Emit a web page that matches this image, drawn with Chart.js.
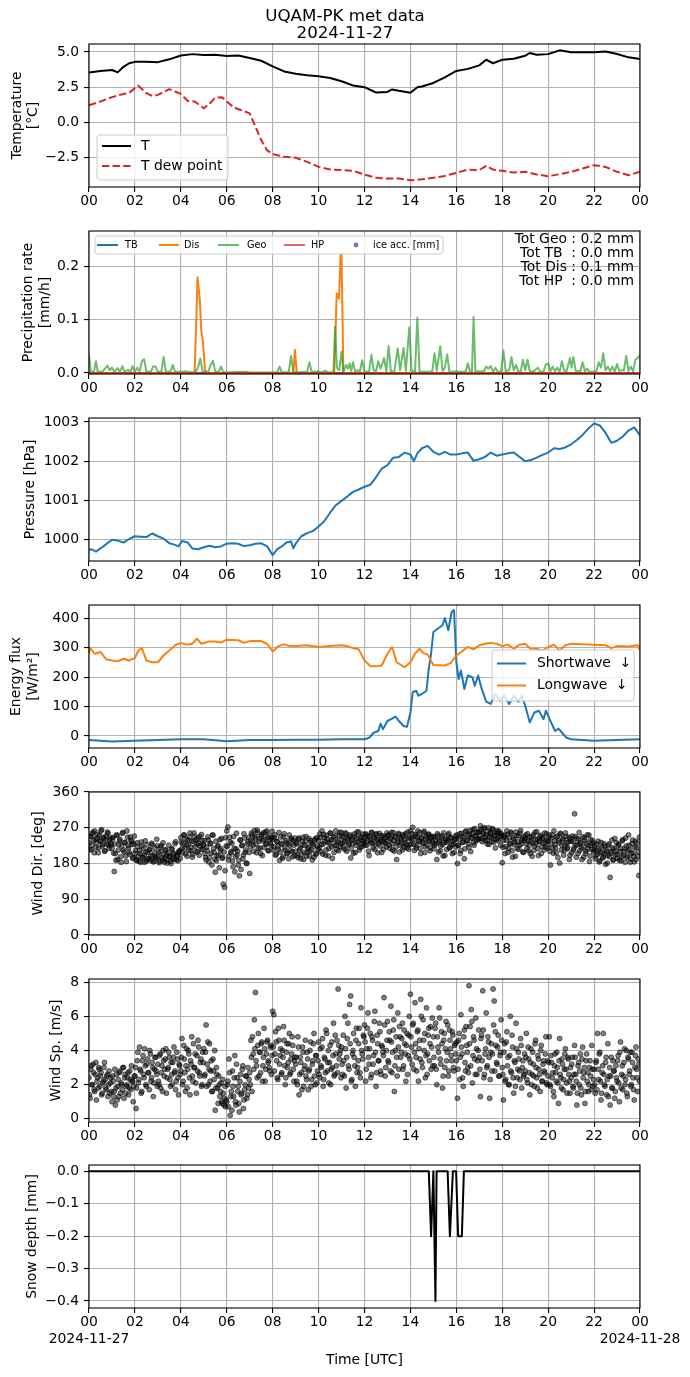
<!DOCTYPE html>
<html><head><meta charset="utf-8">
<script src="https://cdn.jsdelivr.net/npm/chart.js@4/dist/chart.umd.min.js"></script>
<style>
html,body{margin:0;padding:0;background:#fff;}
#wrap{position:relative;width:690px;height:1377px;overflow:hidden;background:#fff;}
canvas{position:absolute;left:0;}
</style></head><body><div id="wrap"></div>
<script>
// ---------------- DATA ----------------
const titleLines = ['UQAM-PK met data', '2024-11-27'];
const dateLabels = ['2024-11-27', '2024-11-28'];

// Temperature (hours UTC, °C)
const tTime = [0,0.5,1,1.25,1.5,1.75,2,2.5,3,3.5,4,4.5,5,5.5,6,6.5,7,7.5,8,8.5,9,9.5,10,10.5,11,11.5,12,12.5,13,13.2,13.5,14,14.3,14.5,15,15.5,16,16.5,17,17.3,17.6,18,18.5,19,19.2,19.5,20,20.5,21,21.5,22,22.5,23,23.5,24];
const tVals = [3.55,3.65,3.72,3.55,3.95,4.2,4.3,4.3,4.28,4.48,4.75,4.85,4.78,4.8,4.72,4.75,4.57,4.38,3.98,3.62,3.45,3.35,3.28,3.15,2.92,2.62,2.5,2.12,2.16,2.34,2.24,2.1,2.5,2.55,2.8,3.2,3.65,3.8,4.05,4.45,4.2,4.45,4.52,4.74,4.93,4.81,4.85,5.12,4.98,4.98,4.98,5.03,4.86,4.62,4.5];
const tdTime = [0,0.5,1,1.5,1.75,2,2.15,2.5,2.75,3,3.5,3.75,4,4.3,4.6,5,5.3,5.5,5.8,6,6.3,6.6,7,7.25,7.5,7.75,8,8.5,9,9.5,10,10.5,11,11.5,12,12.5,13,13.5,14,14.5,15,15.5,16,16.5,17,17.3,17.6,18,18.5,19,19.5,20,20.5,21,21.5,22,22.5,23,23.5,24];
const tdVals = [1.21,1.48,1.79,2.02,2.1,2.43,2.6,2.07,1.88,1.95,2.36,2.19,2.02,1.52,1.48,1.0,1.4,1.76,1.79,1.48,1.07,0.88,0.64,-0.31,-1.26,-1.98,-2.26,-2.45,-2.52,-2.81,-3.17,-3.36,-3.4,-3.45,-3.71,-3.95,-4.0,-4.0,-4.12,-4.05,-3.95,-3.81,-3.6,-3.36,-3.4,-3.1,-3.36,-3.45,-3.57,-3.52,-3.71,-3.83,-3.69,-3.52,-3.29,-3.05,-3.17,-3.52,-3.76,-3.52];

// Precipitation rate [mm/h] as [hour, value]
const tbRate = [[0,0],[24,0]];
const hpRate = [[0,0],[24,0]];
const iceAcc = [];
const disRate = [[0,0],[4.6,0],[4.73,0.18],[4.83,0.135],[4.89,0.08],[4.96,0.06],[5.06,0],[8.9,0],[8.97,0.043],[9.05,0],[10.68,0],[10.79,0.15],[10.84,0.145],[10.89,0.14],[10.96,0.22],[11.0,0.225],[11.08,0],[24,0]];
const geoRate = [[0,0.035],[0.08,0.002],[0.22,0.003],[0.3,0.022],[0.38,0.002],[0.6,0.003],[0.8,0.014],[0.9,0.005],[1.0,0.01],[1.1,0.002],[1.25,0.009],[1.35,0.002],[1.45,0.013],[1.55,0.002],[1.7,0.006],[1.8,0.002],[1.9,0.013],[2.0,0.002],[2.1,0.01],[2.2,0.002],[2.3,0.022],[2.4,0.026],[2.5,0.002],[2.7,0.003],[2.8,0.012],[2.9,0.012],[3.0,0.002],[3.15,0.002],[3.25,0.03],[3.35,0.002],[3.55,0.003],[3.65,0.015],[3.75,0.002],[4.1,0.002],[4.2,0.003],[4.5,0.001],[4.65,0.002],[4.75,0.01],[4.85,0.027],[4.95,0.002],[5.2,0.003],[5.3,0.015],[5.4,0.023],[5.5,0.002],[5.65,0.002],[5.75,0.012],[5.85,0.001],[6.9,0.002],[7.0,0.001],[8.2,0.001],[8.3,0.012],[8.4,0.001],[8.7,0.002],[8.8,0.032],[8.9,0.001],[9.5,0.002],[9.6,0.02],[9.7,0.002],[10.0,0.003],[10.1,0.001],[10.3,0.004],[10.4,0.001],[10.65,0.002],[10.72,0.087],[10.8,0.01],[10.9,0.005],[11.0,0.04],[11.08,0.002],[11.2,0.015],[11.28,0.008],[11.35,0.018],[11.42,0.003],[11.5,0.02],[11.6,0.002],[11.7,0.005],[11.8,0.003],[11.9,0.024],[12.0,0.002],[12.2,0.003],[12.3,0.034],[12.4,0.005],[12.5,0.003],[12.6,0.022],[12.7,0.008],[12.85,0.028],[12.95,0.003],[13.05,0.051],[13.15,0.002],[13.3,0.003],[13.45,0.046],[13.55,0.005],[13.7,0.047],[13.8,0.004],[13.95,0.086],[14.05,0.004],[14.2,0.003],[14.3,0.104],[14.4,0.002],[14.8,0.002],[14.95,0.003],[15.05,0.037],[15.15,0.004],[15.3,0.05],[15.4,0.004],[15.5,0.01],[15.6,0.035],[15.7,0.002],[16.0,0.003],[16.1,0.002],[16.4,0.002],[16.5,0.018],[16.6,0.002],[16.68,0.002],[16.75,0.105],[16.83,0.003],[17.2,0.003],[17.3,0.012],[17.4,0.008],[17.5,0.013],[17.6,0.002],[17.7,0.01],[17.8,0.002],[17.95,0.003],[18.05,0.042],[18.15,0.003],[18.3,0.005],[18.4,0.03],[18.5,0.005],[18.6,0.015],[18.7,0.002],[18.8,0.002],[18.9,0.025],[19.0,0.005],[19.1,0.025],[19.2,0.002],[19.4,0.004],[19.55,0.01],[19.65,0.002],[19.8,0.003],[19.9,0.016],[20.0,0.018],[20.1,0.003],[20.2,0.012],[20.3,0.003],[20.4,0.01],[20.5,0.002],[20.6,0.022],[20.7,0.004],[20.8,0.003],[20.95,0.028],[21.02,0.01],[21.1,0.03],[21.2,0.004],[21.4,0.003],[21.5,0.02],[21.6,0.003],[21.7,0.008],[21.8,0.002],[22.1,0.003],[22.2,0.02],[22.3,0.01],[22.4,0.037],[22.5,0.005],[22.6,0.012],[22.7,0.003],[22.8,0.012],[22.9,0.002],[23.0,0.017],[23.1,0.004],[23.3,0.005],[23.4,0.032],[23.5,0.004],[23.6,0.012],[23.7,0.003],[23.8,0.025],[23.9,0.028],[24.0,0.034]];
const precipTotals = ['Tot Geo : 0.2 mm', 'Tot TB  : 0.0 mm', 'Tot Dis : 0.1 mm', 'Tot HP  : 0.0 mm'];

// Pressure [hPa]
const pTime = [0,0.1,0.3,0.5,0.75,1,1.25,1.5,1.75,2,2.25,2.5,2.75,3,3.25,3.5,3.75,3.9,4.05,4.3,4.5,4.75,5,5.25,5.5,5.75,6,6.25,6.5,6.75,7,7.25,7.5,7.75,8,8.2,8.4,8.6,8.8,8.9,9,9.25,9.5,9.75,10,10.25,10.5,10.75,11,11.25,11.5,11.75,12,12.25,12.5,12.75,13,13.25,13.5,13.75,14,14.15,14.3,14.5,14.75,15,15.25,15.5,15.75,16,16.25,16.5,16.75,17,17.25,17.5,17.75,18,18.25,18.5,18.75,19,19.25,19.5,19.75,20,20.25,20.5,20.75,21,21.25,21.5,21.75,22,22.25,22.5,22.75,23,23.25,23.5,23.75,24];
const pVals = [999.74,999.76,999.70,999.78,999.89,1000.0,999.98,999.93,1000.02,1000.09,1000.08,1000.07,1000.16,1000.09,1000.03,999.91,999.87,999.83,999.97,999.93,999.78,999.76,999.81,999.85,999.81,999.83,999.90,999.91,999.90,999.84,999.86,999.90,999.91,999.84,999.61,999.76,999.83,999.93,999.96,999.78,999.90,1000.09,1000.17,1000.22,1000.34,1000.47,1000.69,1000.88,1000.99,1001.10,1001.22,1001.28,1001.35,1001.40,1001.59,1001.81,1001.90,1002.09,1002.11,1002.22,1002.17,1002.0,1002.20,1002.33,1002.39,1002.24,1002.17,1002.24,1002.17,1002.17,1002.2,1002.22,1002.01,1002.05,1002.11,1002.22,1002.14,1002.17,1002.2,1002.22,1002.11,1002.0,1002.03,1002.09,1002.16,1002.22,1002.33,1002.31,1002.35,1002.43,1002.54,1002.67,1002.83,1002.96,1002.91,1002.72,1002.47,1002.52,1002.63,1002.78,1002.86,1002.66];

// Energy flux [W/m2]
const swTime = [0,1,2,3,4,5,6,7,8,9,10,11,12,12.2,12.4,12.6,12.7,12.8,13,13.2,13.35,13.5,13.7,13.85,14,14.1,14.25,14.35,14.5,14.7,14.8,14.9,15,15.2,15.4,15.5,15.65,15.8,15.9,16,16.1,16.2,16.35,16.5,16.7,16.8,16.95,17.1,17.3,17.5,17.7,17.9,18.1,18.3,18.5,18.7,18.85,19,19.2,19.4,19.6,19.8,19.9,20.1,20.3,20.45,20.6,20.8,21,22,23,24];
const swVals = [-14,-19,-16,-14,-11,-11,-18,-14,-14,-13,-13,-11,-11,-6,11,17,42,23,51,59,66,51,34,31,80,149,154,137,143,154,229,280,354,366,377,402,360,423,429,251,194,223,160,206,200,171,206,162,117,109,143,120,137,109,137,117,137,103,46,80,86,57,86,51,17,25,11,-6,-11,-16,-14,-11];
const lwTime = [0,0.05,0.25,0.5,0.75,1,1.25,1.5,1.75,2,2.15,2.3,2.5,2.75,3,3.25,3.5,3.75,4,4.25,4.5,4.7,4.9,5.25,5.5,5.75,6,6.5,6.75,7,7.5,7.75,8,8.25,8.5,8.75,9,9.5,10,10.5,11,11.25,11.5,11.75,12,12.25,12.5,12.75,13,13.2,13.4,13.75,14,14.2,14.4,14.55,14.75,15,15.5,15.75,16,16.25,16.5,16.75,17,17.25,17.5,17.75,18,18.25,18.5,18.75,19,19.25,19.5,19.75,20,20.25,20.5,20.75,21,21.5,22,22.5,22.75,23,23.5,23.9,24];
const lwVals = [280,300,280,286,261,257,254,263,257,265,291,299,257,251,251,274,291,309,317,311,314,331,314,322,322,318,328,326,317,323,323,314,288,306,312,306,306,309,303,306,309,306,299,295,257,238,237,240,280,303,251,234,251,280,297,283,277,242,240,248,274,288,303,295,309,314,317,314,306,311,297,311,314,295,297,291,303,311,291,309,314,312,311,309,299,306,305,309,291];

// Wind direction [deg]: 20 samples per hour at :00,:03,... (A) and at :01.5,:04.5,... (B)
const windDir = [
232,248,215,255,238,262,221,244,207,251,236,265,228,243,212,249,259,226,240,231,
218,246,160,205,252,190,228,241,183,256,214,233,199,262,225,208,247,236,193,229,
205,188,232,198,212,183,224,195,201,237,186,208,192,215,199,228,184,206,196,241,
197,182,210,225,188,203,193,214,181,206,199,186,217,192,205,230,189,201,208,212,
245,218,231,252,204,226,239,213,257,221,196,236,248,210,229,244,201,224,253,216,
227,205,189,212,239,196,231,176,251,208,158,187,222,200,240,217,193,128,120,245,
262,272,198,234,210,186,248,159,217,202,176,149,239,225,192,255,208,181,229,246,
155,238,252,226,263,244,207,258,236,219,249,200,257,241,228,262,213,250,231,245,
241,222,252,203,235,216,188,247,228,197,255,213,233,206,192,226,244,210,238,200,
211,232,195,244,219,203,236,190,226,248,208,221,199,238,214,229,196,242,205,224,
237,254,210,262,229,245,201,251,233,218,256,240,193,247,226,262,215,238,250,222,
258,232,246,215,255,239,226,248,194,241,230,254,208,244,235,259,220,247,238,229,
243,255,226,249,200,238,258,231,246,215,253,241,229,256,237,208,250,233,245,222,
237,252,218,244,230,258,211,247,190,236,253,226,241,214,249,232,255,219,243,228,
262,242,271,228,253,219,247,236,258,205,244,231,261,222,249,238,254,212,245,235,
248,226,239,190,251,234,212,245,228,257,200,240,233,252,219,244,227,236,208,249,
242,180,226,255,213,247,234,192,260,238,251,221,263,244,256,232,268,249,240,258,
261,275,243,256,268,238,252,229,270,247,259,236,265,250,219,257,242,262,248,255,
182,238,251,222,262,208,245,229,256,196,241,233,259,217,250,226,263,238,209,247,
243,229,255,212,247,236,198,252,224,241,260,217,235,248,205,244,230,257,221,238,
235,252,176,244,219,262,228,207,249,237,181,254,226,242,213,257,232,220,246,201,
236,249,214,305,226,243,205,258,230,218,247,196,238,211,252,226,185,240,215,231,
214,192,229,203,218,187,233,208,196,224,178,211,200,229,145,206,219,190,243,212,
203,226,188,218,197,240,210,183,224,199,252,215,191,230,207,184,236,220,198,150];
const windDirB = [
215,248,226,259,207,241,232,253,219,237,262,224,246,211,239,229,256,218,244,227,
242,206,229,188,251,214,237,197,224,258,209,233,185,246,219,203,238,228,195,249,
213,190,222,185,205,234,196,218,183,209,227,192,214,188,231,200,186,219,194,225,
208,186,221,195,232,183,214,201,189,226,197,180,216,204,191,235,199,187,211,193,
233,207,252,219,241,198,228,247,212,236,203,257,222,240,209,231,248,215,238,226,
238,195,221,247,184,230,206,252,218,191,236,200,225,169,212,243,196,209,162,224,
223,189,246,207,231,172,218,198,256,211,188,239,165,226,201,244,214,180,235,208,
222,257,235,211,248,229,264,218,242,205,253,237,220,259,231,246,212,240,226,261,
214,245,201,236,223,258,209,231,193,247,219,238,205,229,252,213,240,197,226,244,
230,201,241,214,192,226,246,208,235,198,219,243,211,233,189,224,238,203,245,216,
219,246,228,204,253,236,214,242,199,231,257,222,240,208,249,226,234,212,258,230,
247,220,235,257,211,243,229,252,217,238,206,248,226,259,233,214,245,222,254,236,
226,252,238,211,247,232,258,219,243,229,255,207,240,224,250,236,216,245,231,257,
251,226,242,258,214,237,248,222,233,256,209,244,230,253,220,240,227,259,216,246,
229,255,240,213,249,226,262,237,218,245,232,258,208,242,226,253,236,219,248,231,
217,246,230,255,209,238,224,250,199,233,243,215,237,256,221,245,205,229,240,222,
252,226,241,205,256,233,247,217,262,238,229,253,210,244,265,226,250,237,258,242,
243,266,235,254,270,247,238,261,228,255,244,268,233,251,240,262,237,257,226,250,
221,247,205,239,253,218,231,259,212,244,227,198,250,235,216,256,229,242,208,238,
252,217,238,226,205,247,232,213,258,229,241,200,236,251,222,244,214,233,255,219,
244,211,229,252,206,237,219,247,195,232,256,214,239,201,225,248,217,234,190,242,
207,235,219,248,196,227,241,212,233,190,222,245,205,231,217,252,199,226,238,210,
225,199,213,236,184,207,221,194,230,203,215,181,226,197,210,239,188,218,202,232,
193,229,210,187,237,201,218,244,195,212,226,183,205,239,198,221,190,232,209,246];

// Wind speed [m/s], same sampling
const windSpd = [
2.4,1.2,3.1,2.0,2.7,1.6,3.3,2.2,1.8,2.9,2.5,1.4,2.1,3.0,2.3,1.7,2.6,2.0,1.5,2.4,
1.0,2.2,1.6,0.8,2.6,1.9,1.3,2.8,2.1,1.7,3.0,2.4,1.5,2.0,2.7,1.8,2.3,3.1,2.2,1.9,
2.5,0.6,3.4,2.1,4.2,2.8,1.6,3.7,2.4,3.1,1.9,3.5,2.7,4.0,2.2,3.3,1.3,2.9,3.6,2.6,
3.2,2.0,3.8,2.7,1.6,3.4,2.9,4.1,2.4,3.0,3.6,1.9,2.6,3.3,4.2,2.8,2.2,3.5,1.4,3.1,
2.8,4.7,2.2,3.5,1.6,4.1,2.9,3.8,1.4,3.2,2.5,4.4,3.0,2.1,3.7,4.6,2.7,3.3,1.9,3.9,
4.1,2.6,5.5,3.2,2.0,4.4,2.8,1.6,3.5,2.3,0.5,3.0,1.8,2.5,1.3,2.1,0.9,1.5,1.2,0.7,
1.0,2.2,3.5,0.2,1.6,2.8,1.3,3.7,0.8,2.4,1.9,0.4,2.6,1.5,3.1,1.1,2.0,2.5,1.4,1.8,
2.7,4.6,1.6,3.8,5.8,7.4,3.1,4.3,2.5,3.9,4.4,2.2,3.6,4.1,2.9,4.5,3.3,3.0,4.2,2.6,
6.3,6.1,3.8,4.5,2.4,5.3,3.2,4.1,2.7,3.6,4.6,2.0,3.9,3.0,4.4,2.6,3.5,4.8,2.9,3.4,
3.2,2.2,4.8,1.4,3.6,2.7,4.2,1.9,3.1,2.5,3.9,1.7,2.9,4.5,2.3,3.4,5.0,2.0,3.7,2.8,
4.5,2.4,3.1,4.2,1.9,3.6,2.7,5.0,3.3,2.1,4.3,2.9,3.0,5.6,2.6,3.8,4.6,7.6,3.5,4.0,
4.2,2.6,3.4,6.0,1.8,4.7,3.1,6.7,7.2,2.3,4.0,3.6,1.9,5.3,3.0,4.4,2.7,6.5,3.8,4.9,
5.5,2.2,4.1,6.2,3.2,5.0,2.6,4.6,3.7,6.3,1.9,4.9,3.4,5.6,2.8,4.3,3.9,7.1,2.5,4.0,
5.7,3.3,4.6,6.6,2.7,5.2,1.6,4.0,3.6,6.2,2.9,4.8,3.9,5.6,3.1,4.4,2.2,5.0,3.7,6.0,
7.3,4.2,5.5,2.9,6.8,3.6,5.1,2.2,4.6,7.0,3.3,5.8,4.0,2.4,6.5,3.8,5.3,4.4,2.9,5.9,
4.8,3.1,5.6,2.0,4.2,6.5,3.5,5.1,1.8,4.6,3.0,5.7,3.9,2.5,5.2,4.1,3.4,4.9,2.8,4.4,
3.4,1.2,4.6,2.3,6.1,3.8,1.9,5.2,2.8,4.3,3.0,7.8,5.4,6.4,2.1,4.8,3.5,5.9,2.6,4.0,
3.6,1.3,4.9,7.5,2.4,3.8,6.2,3.1,4.5,1.2,3.9,2.8,7.6,6.9,5.1,3.3,4.2,2.5,3.7,5.8,
3.0,1.1,4.4,2.3,5.1,3.6,2.0,6.0,2.7,4.2,1.5,3.3,5.6,2.4,3.9,2.8,4.7,1.8,3.4,2.6,
2.8,5.0,2.1,3.5,1.4,4.1,2.6,3.2,1.9,4.6,2.4,3.7,2.9,1.6,4.3,2.2,3.4,2.7,4.8,2.0,
2.5,4.8,1.9,3.3,2.7,1.3,3.8,2.2,3.0,0.9,4.7,2.4,3.5,1.7,2.9,4.1,2.1,3.6,2.6,1.5,
2.4,3.6,1.8,4.3,2.6,0.8,3.1,2.0,3.8,1.4,4.2,2.7,0.9,3.4,2.2,1.6,3.0,2.5,4.3,1.9,
2.9,1.5,3.4,5.0,2.3,3.9,1.1,2.7,5.0,2.0,3.3,1.4,4.4,2.5,0.8,3.6,1.8,2.8,1.2,3.1,
2.2,3.7,1.0,4.5,2.6,1.7,3.3,2.0,4.0,1.3,3.5,2.8,1.9,3.9,2.4,1.1,3.7,2.9,1.6,3.2];
const windSpdB = [
1.4,2.9,2.0,3.2,1.7,2.6,1.1,2.4,3.0,1.9,2.7,1.5,2.2,3.3,1.8,2.5,1.3,2.8,2.1,1.6,
2.5,1.3,2.9,1.8,1.1,2.3,2.7,1.5,2.0,3.0,1.2,2.6,1.9,2.4,1.4,2.8,1.7,2.2,1.0,2.5,
3.0,1.8,3.9,2.3,2.9,1.5,3.4,2.6,4.1,2.0,3.2,2.7,1.7,3.8,2.4,3.0,2.1,3.6,2.8,1.9,
2.2,3.7,1.8,3.1,4.0,2.5,3.5,1.5,2.9,3.9,2.3,3.3,2.0,3.6,2.7,1.7,3.9,2.4,3.2,2.6,
3.6,2.0,4.3,2.7,3.1,1.8,4.0,2.4,3.4,4.8,2.2,3.0,3.8,1.5,2.8,4.2,2.5,3.5,2.0,3.3,
2.5,3.9,1.9,4.5,2.9,2.2,3.4,1.6,2.8,4.0,1.8,2.6,0.9,2.0,1.6,1.0,2.3,0.8,1.9,1.1,
2.0,0.7,2.7,1.3,0.5,1.9,2.4,1.0,3.2,1.6,0.9,2.2,1.4,2.9,0.6,1.7,2.5,1.2,3.0,2.3,
2.0,3.6,4.8,2.9,4.1,3.4,2.4,5.0,3.9,2.7,4.5,3.1,5.3,2.2,3.8,4.6,3.4,2.8,4.3,3.7,
4.2,2.8,5.1,3.4,2.3,4.6,3.7,2.6,4.0,5.4,3.1,2.4,4.4,3.3,5.0,2.7,3.8,4.3,2.2,3.6,
3.6,2.0,4.2,2.6,3.3,1.7,3.9,2.9,4.6,2.3,3.5,2.8,4.0,1.9,3.2,4.4,2.5,3.7,2.1,3.4,
2.6,4.1,3.0,4.7,2.3,3.5,5.2,2.8,4.0,3.3,2.0,4.5,3.7,2.5,4.9,3.1,2.7,4.3,3.8,2.4,
3.2,4.9,2.5,4.1,3.6,5.6,2.9,4.4,2.2,3.8,5.0,3.1,4.6,2.7,3.4,5.3,2.4,4.0,3.5,4.8,
4.5,2.9,5.3,3.6,4.1,2.4,4.8,3.2,5.7,3.9,2.7,4.4,3.4,5.1,2.6,4.2,3.7,5.5,3.0,4.6,
3.4,5.1,2.8,4.5,3.9,5.8,3.1,4.8,2.5,4.2,5.4,3.6,4.7,2.9,5.2,3.8,4.3,2.6,4.9,3.5,
4.8,3.2,5.6,3.9,4.4,2.8,5.2,4.1,3.5,6.0,3.0,4.6,5.0,3.7,2.6,4.9,3.4,5.4,4.2,3.1,
3.6,5.3,2.9,4.8,3.9,5.9,3.2,4.4,2.5,5.0,4.1,3.4,5.5,2.8,4.6,3.7,5.1,3.0,4.3,3.8,
4.5,2.9,5.0,3.6,4.2,2.4,4.8,3.3,5.4,3.9,2.7,4.4,3.1,5.7,3.7,4.6,2.6,4.1,3.4,5.2,
2.9,4.7,3.4,5.2,2.6,4.1,3.0,4.8,3.6,2.3,4.4,3.8,5.5,2.8,4.3,3.2,4.9,2.5,3.9,4.6,
2.6,3.9,2.2,4.5,3.1,2.0,3.7,2.8,4.9,2.4,3.4,1.9,4.1,2.9,3.5,2.3,4.3,3.0,2.5,3.8,
3.6,2.3,4.2,2.7,3.3,2.0,3.9,2.5,4.4,3.0,1.8,3.5,2.6,4.0,2.2,3.2,2.8,3.8,2.1,3.4,
3.3,2.0,3.7,2.4,1.6,3.1,2.7,3.9,2.1,3.4,2.6,1.8,3.2,2.3,3.8,2.9,1.5,3.5,2.2,3.0,
3.2,1.9,2.6,3.6,2.2,1.5,3.3,2.8,1.8,3.5,2.4,3.0,1.6,3.8,2.7,2.0,3.4,1.7,2.9,2.3,
2.0,3.3,1.7,2.9,3.8,2.2,1.5,3.1,2.6,1.9,3.6,2.3,1.3,3.0,2.5,1.8,3.4,2.8,1.6,2.4,
3.4,2.1,3.9,1.8,3.1,2.5,4.1,2.3,1.5,3.6,2.6,3.9,2.0,3.3,1.7,3.0,4.2,2.4,3.5,2.2];
const windSamplesPerHour = 20;

// Snow depth [mm] as [hour, value]
const snowDepth = [[0,0],[14.8,0],[14.9,-0.2],[15.0,0],[15.09,-0.4],[15.14,0],[15.62,0],[15.72,-0.2],[15.85,0],[15.99,0],[16.08,-0.2],[16.24,-0.2],[16.33,0],[24,0]];

// ---------------- RENDERING ----------------
const FONT = "'DejaVu Sans', sans-serif";
Chart.defaults.font.family = FONT;
Chart.defaults.font.size = 13.9;
Chart.defaults.color = '#000';

const PLOT_H = 143;
const panelTops = [44, 231, 418, 605, 792, 979, 1165];
const GRID = {color:'#b0b0b0', lineWidth:1.1, tickColor:'#000', tickLength:5, tickWidth:1.1, drawTicks:true};

function zip(xs, ys){ const n=Math.min(xs.length, ys.length); const o=[]; for(let i=0;i<n;i++) o.push({x:xs[i], y:ys[i]}); return o; }
function pairs(p){ return p.map(a => ({x:a[0], y:a[1]})); }
function windPts(a, b){
  const o = a.map((v,i) => ({x: i / windSamplesPerHour, y: v}));
  b.forEach((v,i) => o.push({x: (i + 0.5) / windSamplesPerHour, y: v}));
  return o;
}
function hourLabel(v){ const h = Math.round(v) % 24; return (h < 10 ? '0' : '') + h; }
function fmtDec(d){ return v => { const s = (Math.abs(v) < 1e-9 ? 0 : v).toFixed(d); return s.replace('-', '\u2212'); }; }

function lineDs(data, color, extra){
  return Object.assign({data, showLine:true, borderColor:color, backgroundColor:color, borderWidth:2, pointRadius:0, pointHoverRadius:0, tension:0, fill:false, borderJoinStyle:'round'}, extra||{});
}
function scatterDs(data){
  return {data, showLine:false, pointRadius:2.5, pointHoverRadius:2.5, pointBackgroundColor:'rgba(0,0,0,0.5)', pointBorderColor:'rgba(0,0,0,0.5)', pointBorderWidth:1, borderWidth:1, backgroundColor:'rgba(0,0,0,0.5)', borderColor:'rgba(0,0,0,0.5)'};
}

function xScale(last){
  return {
    type:'linear', min:0, max:24,
    ticks:{stepSize:2, autoSkip:false, maxRotation:0, minRotation:0, includeBounds:false, padding:1.5,
      callback: v => (last && (v === 0 || v === 24)) ? [hourLabel(v), v === 0 ? dateLabels[0] : dateLabels[1]] : hourLabel(v)},
    grid: GRID, border:{display:false},
    title: last ? {display:true, text:'Time [UTC]', padding:{top:0, bottom:8.6}, font:{size:13.9}} : {display:false},
    afterFit: s => { s.height = last ? 69 : 30; }
  };
}
function yScale(o){
  return {
    type:'linear', min:o.min, max:o.max,
    ticks:{stepSize:o.step, includeBounds:false, padding:5, autoSkip:false, callback:o.fmt},
    grid: GRID, border:{display:false},
    title:{display:true, text:o.title, padding:{top:o.tpad, bottom:0}, font:{size:13.9}},
    afterFit: s => { s.width = 89; }
  };
}

function drawLegend(ctx, L, off){
  const [x0,y0,x1,y1] = L.box;
  const r = 3;
  ctx.save();
  ctx.beginPath();
  ctx.moveTo(x0+r, y0-off); ctx.lineTo(x1-r, y0-off); ctx.arcTo(x1, y0-off, x1, y0-off+r, r);
  ctx.lineTo(x1, y1-off-r); ctx.arcTo(x1, y1-off, x1-r, y1-off, r);
  ctx.lineTo(x0+r, y1-off); ctx.arcTo(x0, y1-off, x0, y1-off-r, r);
  ctx.lineTo(x0, y0-off+r); ctx.arcTo(x0, y0-off, x0+r, y0-off, r);
  ctx.closePath();
  ctx.fillStyle = 'rgba(255,255,255,0.8)'; ctx.fill();
  ctx.strokeStyle = '#cccccc'; ctx.lineWidth = 1; ctx.stroke();
  ctx.font = L.size + 'px ' + FONT; ctx.textBaseline = 'middle'; ctx.textAlign = 'left';
  for (const it of L.items){
    const y = it.y - off;
    if (it.dot){
      ctx.fillStyle = it.color; ctx.beginPath(); ctx.arc(it.x0, y, 2.4, 0, Math.PI*2); ctx.fill();
    } else {
      ctx.strokeStyle = it.color; ctx.lineWidth = it.lw || 2; ctx.setLineDash(it.dash || []);
      ctx.beginPath(); ctx.moveTo(it.x0, y); ctx.lineTo(it.x1, y); ctx.stroke(); ctx.setLineDash([]);
    }
    ctx.fillStyle = '#000'; ctx.fillText(it.text, it.tx, y);
  }
  ctx.restore();
}

function extrasPlugin(id, cfg, off){
  return {
    id: 'extras' + id,
    afterDatasetsDraw(chart){
      const ctx = chart.ctx, a = chart.chartArea;
      ctx.save();
      ctx.strokeStyle = '#000'; ctx.lineWidth = 1.1;
      ctx.strokeRect(a.left, a.top, a.right - a.left, a.bottom - a.top);
      ctx.restore();
      if (cfg.legend) drawLegend(ctx, cfg.legend, off);
      if (cfg.texts){
        ctx.save(); ctx.fillStyle = '#000'; ctx.font = '13.9px ' + FONT; ctx.textAlign = 'right'; ctx.textBaseline = 'middle';
        cfg.texts.lines.forEach((t, i) => ctx.fillText(t, cfg.texts.x, cfg.texts.y0 + i * cfg.texts.dy - off));
        ctx.restore();
      }
      if (cfg.title){
        ctx.save(); ctx.fillStyle = '#000'; ctx.font = '16.7px ' + FONT; ctx.textAlign = 'center'; ctx.textBaseline = 'middle';
        ctx.fillText(titleLines[0], 345, 16.7 - off);
        ctx.fillText(titleLines[1], 345, 33.6 - off);
        ctx.restore();
      }
    }
  };
}

const wrap = document.getElementById('wrap');
function makeChart(idx, datasets, yopts, extras){
  const last = idx === 6;
  const padTop = idx === 0 ? 44 : 20;
  const xh = last ? 69 : 30;
  const top = panelTops[idx] - padTop;
  const h = padTop + PLOT_H + xh;
  const c = document.createElement('canvas');
  c.width = 690; c.height = h;
  c.style.top = top + 'px'; c.style.width = '690px'; c.style.height = h + 'px';
  wrap.appendChild(c);
  new Chart(c, {
    type:'scatter',
    data:{datasets},
    options:{
      responsive:false, animation:false, events:[],
      layout:{padding:{left:0, right:50, top:padTop, bottom:0}},
      plugins:{legend:{display:false}, tooltip:{enabled:false}, title:{display:false}},
      scales:{x:xScale(last), y:yScale(yopts)}
    },
    plugins:[extrasPlugin(idx, extras || {}, top)]
  });
}

// Panel 1: temperature
makeChart(0, [
  lineDs(zip(tTime, tVals), '#000000'),
  lineDs(zip(tdTime, tdVals), '#d62728', {borderDash:[7.4, 3.2]})
], {min:-4.6, max:5.57, step:2.5, fmt:fmtDec(1), title:['Temperature','[°C]'], tpad:8.6}, {
  title:true,
  legend:{box:[97,135,228,180], size:13.9, items:[
    {x0:102, x1:131, y:146, tx:141, text:'T', color:'#000000'},
    {x0:102, x1:131, y:166, tx:141, text:'T dew point', color:'#d62728', dash:[7.4,3.2]}
  ]}
});

// Panel 2: precipitation
makeChart(1, [
  lineDs(pairs(hpRate), 'rgba(214,39,40,0.7)'),
  lineDs(pairs(geoRate), 'rgba(44,160,44,0.7)'),
  lineDs(pairs(disRate), '#ff7f0e'),
  lineDs(pairs(tbRate), '#1f77b4'),
  {data: pairs(iceAcc), showLine:false, pointRadius:2.5, pointBackgroundColor:'#9467bd', pointBorderWidth:0}
], {min:-0.002, max:0.267, step:0.1, fmt:fmtDec(1), title:['Precipitation rate','[mm/h]'], tpad:20.2}, {
  legend:{box:[95,236,443,254], size:9.7, items:[
    {x0:97, x1:118, y:245, tx:125, text:'TB', color:'#1f77b4'},
    {x0:159, x1:179, y:245, tx:184, text:'Dis', color:'#ff7f0e'},
    {x0:218, x1:239, y:245, tx:247, text:'Geo', color:'rgba(44,160,44,0.7)'},
    {x0:284, x1:305, y:245, tx:311, text:'HP', color:'rgba(214,39,40,0.7)'},
    {dot:true, x0:356, y:245, tx:373, text:'ice acc. [mm]', color:'#9467bd'}
  ]},
  texts:{lines:precipTotals, x:634, y0:239.5, dy:14}
});

// Panel 3: pressure
makeChart(2, [
  lineDs(zip(pTime, pVals), '#1f77b4')
], {min:999.46, max:1003.1, step:1, fmt:fmtDec(0), title:'Pressure [hPa]', tpad:22.2});

// Panel 4: energy flux
makeChart(3, [
  lineDs(zip(lwTime, lwVals), '#ff7f0e'),
  lineDs(zip(swTime, swVals), '#1f77b4')
], {min:-41, max:446, step:100, fmt:fmtDec(0), title:['Energy flux','[W/m²]'], tpad:8.2}, {
  legend:{box:[492,650,634,701], size:13.9, items:[
    {x0:497, x1:526, y:663.5, tx:537, text:'Shortwave  \u2193', color:'#1f77b4'},
    {x0:497, x1:526, y:685.5, tx:537, text:'Longwave  \u2193', color:'#ff7f0e'}
  ]}
});

// Panel 5: wind direction
makeChart(4, [scatterDs(windPts(windDir, windDirB))],
  {min:0, max:360, step:90, fmt:fmtDec(0), title:'Wind Dir. [deg]', tpad:30.2});

// Panel 6: wind speed
makeChart(5, [scatterDs(windPts(windSpd, windSpdB))],
  {min:-0.19, max:8.19, step:2, fmt:fmtDec(0), title:'Wind Sp. [m/s]', tpad:48.2});

// Panel 7: snow depth
makeChart(6, [lineDs(pairs(snowDepth), '#000000')],
  {min:-0.4216, max:0.0195, step:0.1, fmt:fmtDec(1), title:'Snow depth [mm]', tpad:23.6});
</script>
</body></html>
